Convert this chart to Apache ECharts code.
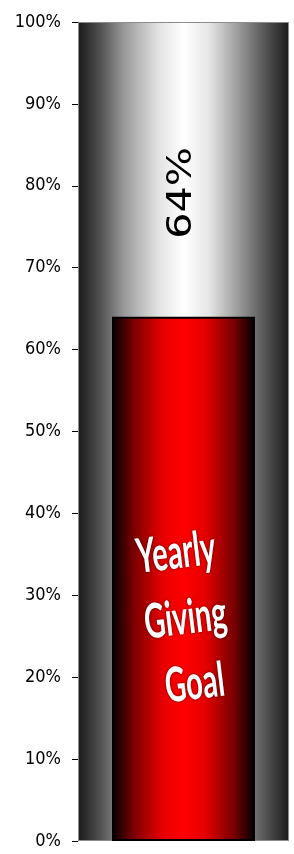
<!DOCTYPE html>
<html>
<head>
<meta charset="utf-8">
<script src="https://cdn.jsdelivr.net/npm/echarts@6/dist/echarts.min.js"></script>
<style>
html, body { margin: 0; padding: 0; background: #fff; }
#chart { width: 294px; height: 854px; }
</style>
</head>
<body>
<div id="chart"></div>
<script>
// data
const categories = ['Giving'];
const goalValues = [1];        // full thermometer, 100%
const progressValues = [0.64]; // reached so far
const captionLines = ['Yearly', 'Giving', 'Goal'];

const chart = echarts.init(document.getElementById('chart'));

// tube (grey) gradient
const tubeColor = new echarts.graphic.LinearGradient(0, 0, 1, 0, [
    { offset: 0, color: '#1a1a1a' },
    { offset: 0.1, color: '#4e4e4e' },
    { offset: 0.22, color: '#9a9a9a' },
    { offset: 0.38, color: '#e2e2e2' },
    { offset: 0.5, color: '#ffffff' },
    { offset: 0.62, color: '#e6e6e6' },
    { offset: 0.76, color: '#9a9a9a' },
    { offset: 0.9, color: '#4e4e4e' },
    { offset: 1, color: '#1a1a1a' }
]);

// mercury (red) gradient
const fillColor = new echarts.graphic.LinearGradient(0, 0, 1, 0, [
    { offset: 0, color: '#000000' },
    { offset: 0.15, color: '#7a0000' },
    { offset: 0.35, color: '#e60000' },
    { offset: 0.5, color: '#ff0000' },
    { offset: 0.65, color: '#e60000' },
    { offset: 0.85, color: '#7a0000' },
    { offset: 1, color: '#000000' }
]);

const option = {
    animation: false,
    grid: { left: 78, right: 5, top: 22, bottom: 13 },
    xAxis: [
        { type: 'category', data: categories, show: false },
        { type: 'category', data: categories, show: false }
    ],
    yAxis: {
        type: 'value',
        min: 0,
        max: 1,
        interval: 0.1,
        axisLine: { show: true, lineStyle: { color: '#9a9a9a', width: 1 } },
        axisTick: { show: true, length: 6, lineStyle: { color: '#000' } },
        splitLine: { show: false },
        axisLabel: {
            margin: 17,
            color: '#000',
            fontSize: 18,
            fontFamily: "'DejaVu Sans Condensed', sans-serif",
            formatter: v => Math.round(v * 100) + '%'
        }
    },
    series: [
        {
            type: 'bar',
            xAxisIndex: 0,
            barWidth: '100%',
            data: goalValues,
            itemStyle: { color: tubeColor, borderColor: '#8c8c8c', borderWidth: 1 },
            z: 1
        },
        {
            type: 'bar',
            xAxisIndex: 1,
            barWidth: 143,
            data: progressValues,
            itemStyle: { color: fillColor, borderColor: '#000', borderWidth: 2 },
            z: 2
        }
    ]
};

chart.setOption(option);

// value text above the red bar, stretched like the original
const barTop = chart.convertToPixel({ xAxisIndex: 1, yAxisIndex: 0 }, [0, progressValues[0]]);
chart.setOption({
    graphic: [
        {
            type: 'text',
            z: 100,
            x: barTop[0] - 1,
            y: barTop[1] - 78,
            rotation: Math.PI / 2,
            scaleX: 1.25,
            style: {
                text: Math.round(progressValues[0] * 100) + '%',
                fill: '#000',
                font: "33px 'DejaVu Sans', sans-serif",
                align: 'left',
                verticalAlign: 'middle'
            }
        },
        {
            type: 'group',
            z: 100,
            x: 176,
            y: 553,
            rotation: 0.12,
            children: captionLines.map((t, i) => ({
                type: 'text',
                z: 100,
                x: i * 1.5,
                y: i * 66,
                scaleY: 1.65,
                style: {
                    text: t,
                    fill: '#fff',
                    font: "bold 29px Lato, 'Open Sans', sans-serif",
                    align: 'center',
                    verticalAlign: 'middle',
                    textShadowColor: 'rgba(0,0,0,0.6)',
                    textShadowBlur: 3
                }
            }))
        }
    ]
});
</script>
</body>
</html>
